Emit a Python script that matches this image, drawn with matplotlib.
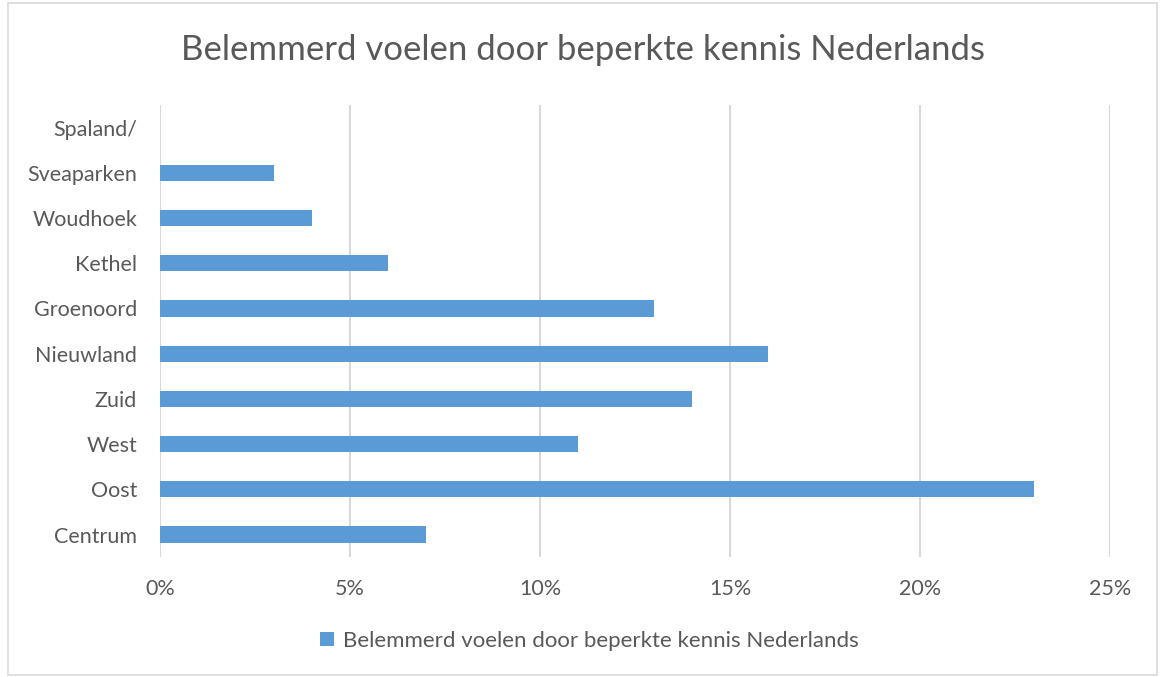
import matplotlib
matplotlib.use("Agg")
import matplotlib.pyplot as plt
from matplotlib.patches import Rectangle
from matplotlib.ticker import FuncFormatter

plt.rcParams['font.family'] = ['Lato', 'DejaVu Sans']

wijken = ["Centrum", "Oost", "West", "Zuid", "Nieuwland", "Groenoord",
          "Kethel", "Woudhoek", "Sveaparken", "Spaland/"]
aandeel = [7, 23, 11, 14, 16, 13, 6, 4, 3, 0]
reeks = "Belemmerd voelen door beperkte kennis Nederlands"

blauw = "#5B9BD5"
grijs_tekst = "#595959"
grijs_lijn = "#D9D9D9"

fig = plt.figure(figsize=(11.6, 6.77), dpi=100)
ax = fig.add_axes([0.1379, 0.177, 0.819, 0.668])

pos = list(range(len(wijken)))
ax.barh(pos, aandeel, height=0.36, color=blauw, label=reeks, zorder=3)

ax.set_xlim(0, 25)
ax.set_ylim(-0.5, len(wijken) - 0.5)
ax.set_xticks([0, 5, 10, 15, 20, 25])
ax.xaxis.set_major_formatter(FuncFormatter(lambda v, p: f"{v:.0f}%"))
ax.set_yticks(pos)
ax.set_yticklabels(wijken)
ax.grid(axis="x", color=grijs_lijn, linewidth=1.5, zorder=0)
for s in ax.spines.values():
    s.set_visible(False)
ax.tick_params(length=0, colors=grijs_tekst, labelsize=15.5)
ax.tick_params(axis="x", pad=16)
ax.tick_params(axis="y", pad=16.5)

fig.suptitle(reeks, x=0.503, y=0.95, fontsize=25, color=grijs_tekst)

ax.legend(loc="center", bbox_to_anchor=(0.508, 0.053), bbox_transform=fig.transFigure,
          frameon=False, fontsize=16, labelcolor=grijs_tekst,
          handlelength=0.6, handleheight=0.6, handletextpad=0.4)

fig.patches.append(Rectangle((0.007, 0.003), 0.99, 0.993, transform=fig.transFigure,
                             fill=False, edgecolor=grijs_lijn, linewidth=1.2))

fig.savefig("out.png", dpi=100)
